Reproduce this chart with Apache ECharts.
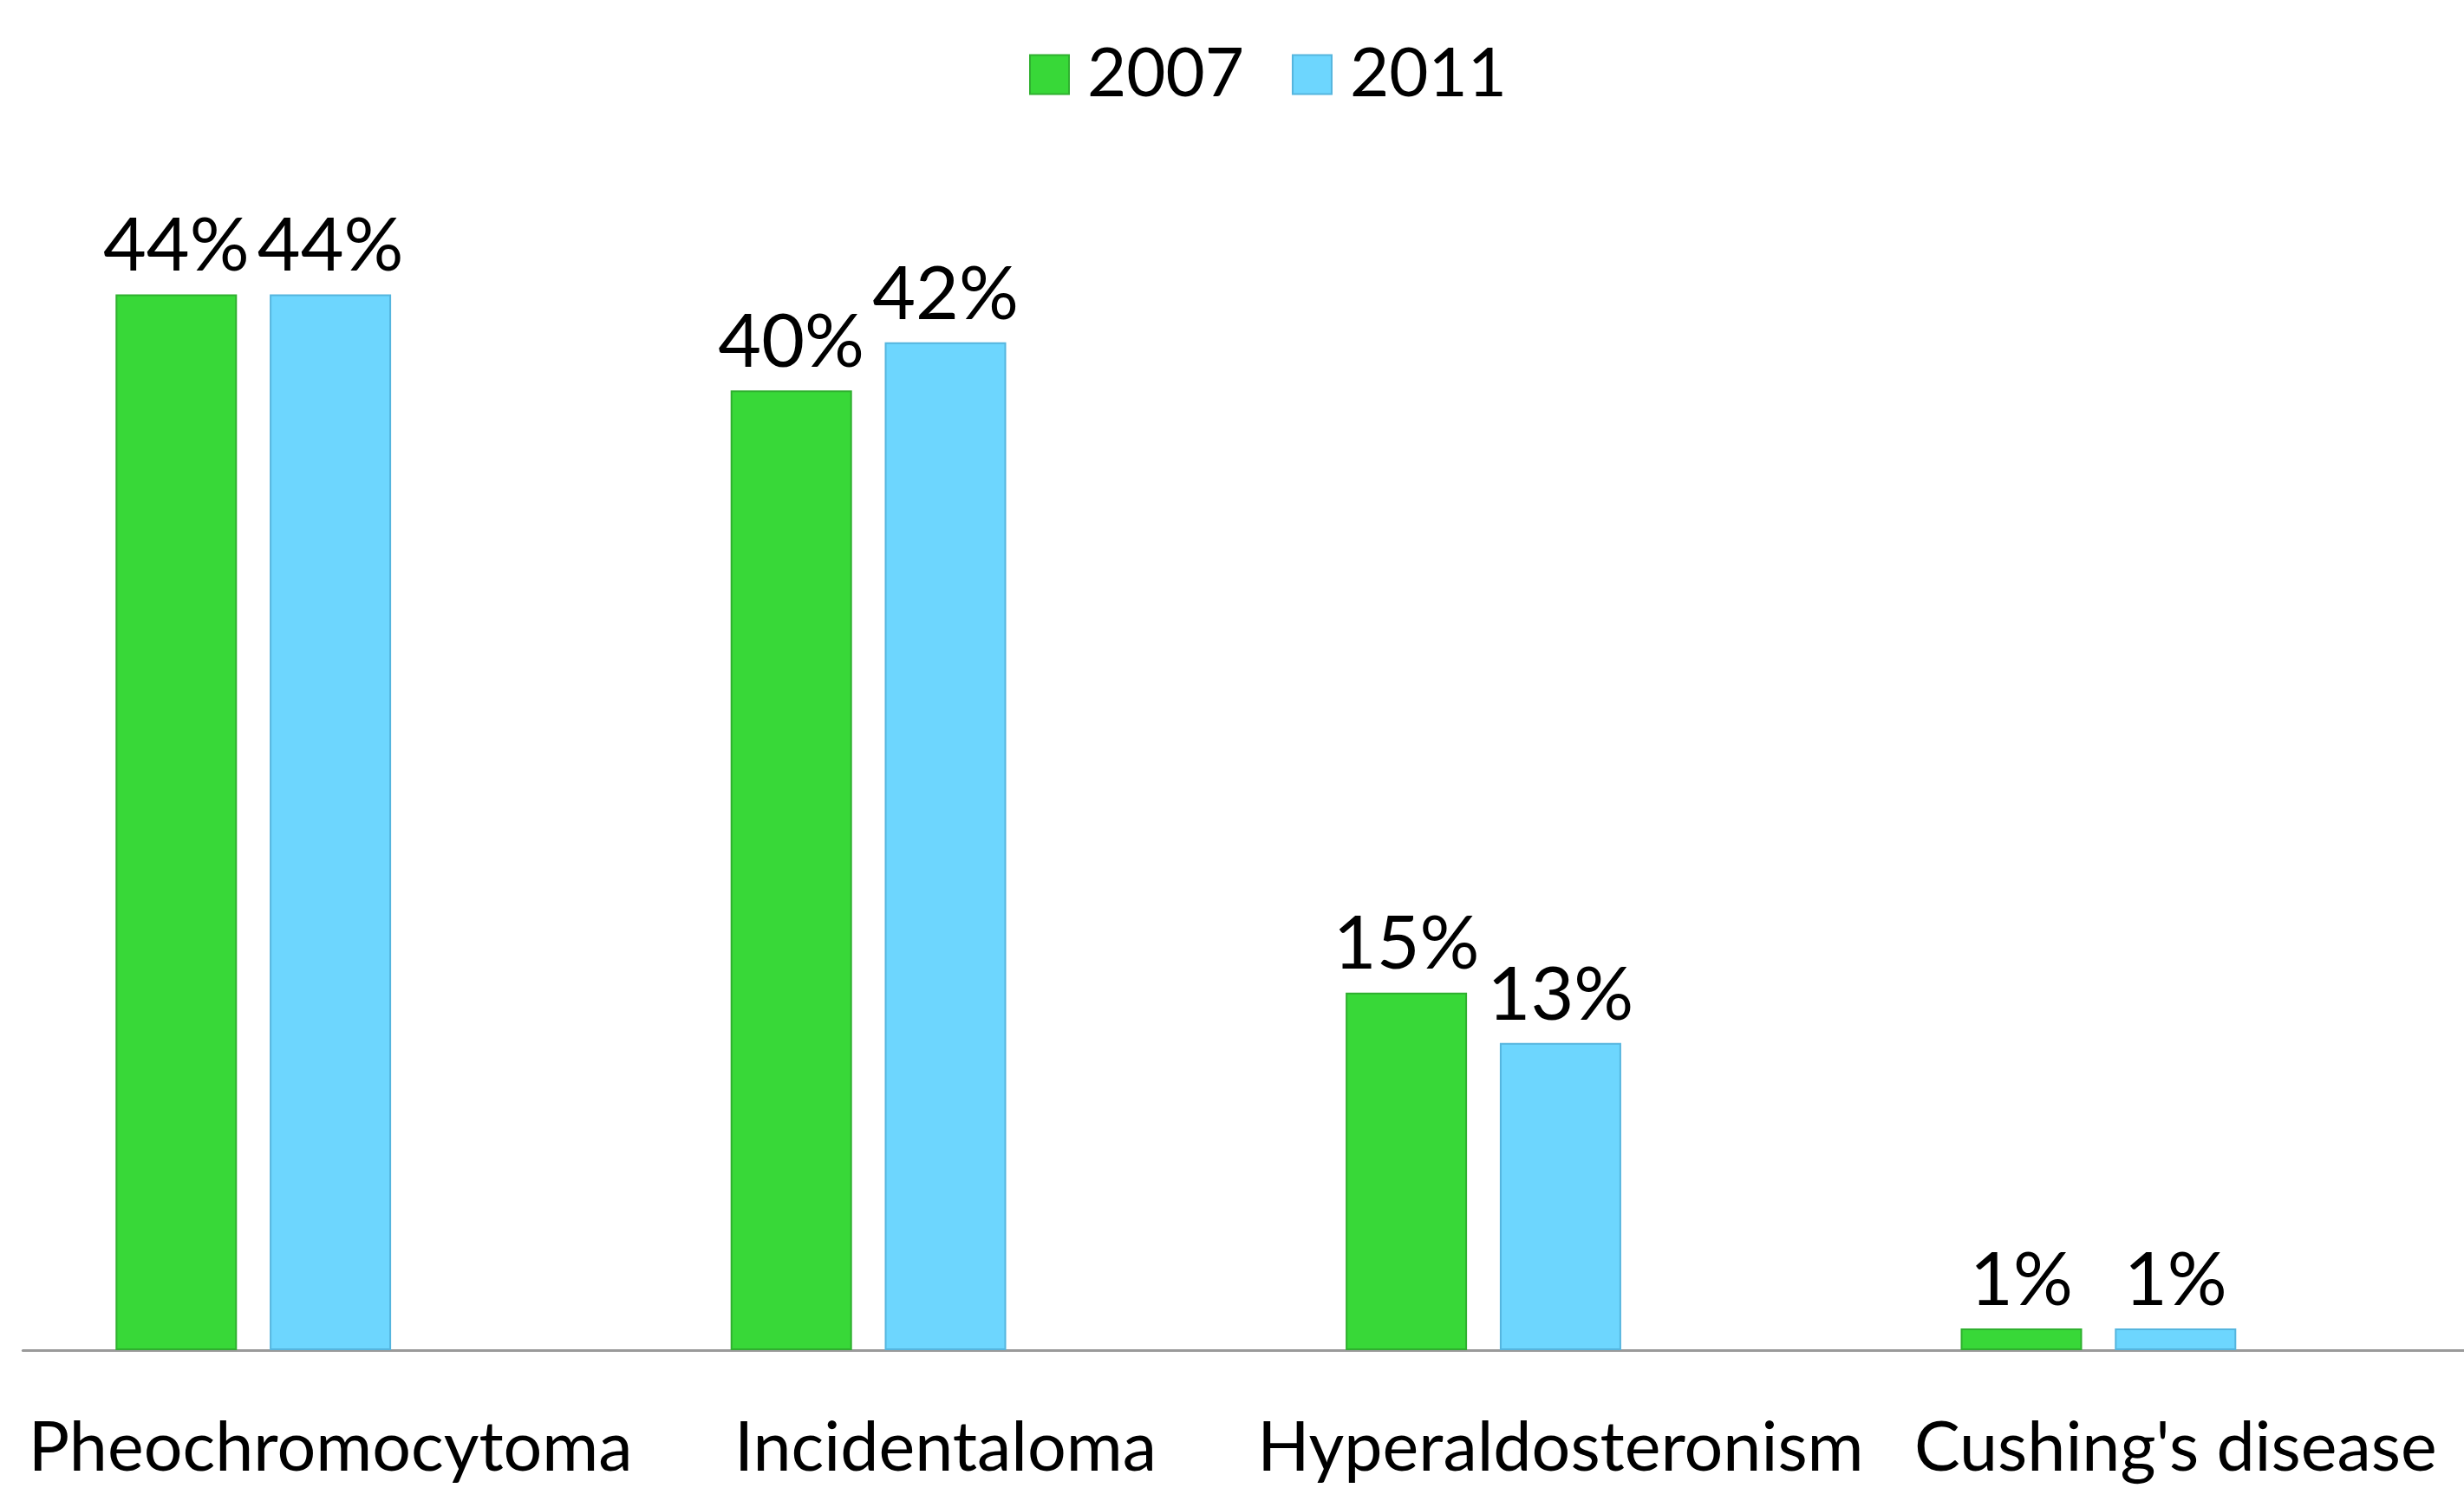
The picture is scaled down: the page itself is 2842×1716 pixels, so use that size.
<!DOCTYPE html>
<html>
<head>
<meta charset="utf-8">
<script src="https://cdn.jsdelivr.net/npm/echarts@6/dist/echarts.min.js"></script>
<style>
html,body{margin:0;padding:0;background:#fff;overflow:hidden;width:2842px;height:1716px;}
#chart{width:2864px;height:1716px;}
</style>
</head>
<body>
<div id="chart"></div>
<script>
const categories = ["Pheochromocytoma", "Incidentaloma", "Hyperaldosteronism", "Cushing's disease"];
const series2007 = [44, 40, 14.9, 0.9];
const series2011 = [44, 42, 12.8, 0.9];
const seriesNames = ["2007", "2011"];

const FONT = 'Lato';
const chart = echarts.init(document.getElementById('chart'), null, {renderer: 'canvas'});
const labelCfg = {
  show: true, position: 'top', distance: 12,
  fontFamily: FONT, fontSize: 86, color: '#000',
  formatter: p => Math.round(p.value) + '%'
};
chart.setOption({
  backgroundColor: '#fff',
  animation: false,
  legend: {
    data: seriesNames,
    icon: 'rect',
    left: 1182, top: 42,
    itemWidth: 45, itemHeight: 45, itemGap: 55,
    textStyle: {fontFamily: FONT, fontSize: 78, color: '#000', padding: [0,0,0,16]}
  },
  grid: {left: 26.4, right: 0, top: 173.5, bottom: 159, containLabel: false},
  xAxis: {
    type: 'category', data: categories,
    axisLine: {lineStyle: {color: '#9a9a9a', width: 3}},
    axisTick: {show: false},
    axisLabel: {interval: 0, fontFamily: FONT, fontSize: 79, color: '#000', margin: 74}
  },
  yAxis: {type: 'value', min: 0, max: 50, show: false, splitLine: {show: false}},
  series: [
    {name: seriesNames[0], type: 'bar', data: series2007, barWidth: 140, barGap: '27%',
     itemStyle: {color: '#38D838', borderColor: '#2fb02f', borderWidth: 2}, label: labelCfg},
    {name: seriesNames[1], type: 'bar', data: series2011, barWidth: 140, barGap: '27%',
     itemStyle: {color: '#6DD6FE', borderColor: '#55b5de', borderWidth: 2}, label: labelCfg},
    {name: 'spacer', type: 'bar', data: [null, null, null, null], barWidth: 140, barGap: '27%'}
  ]
});
</script>
</body>
</html>
